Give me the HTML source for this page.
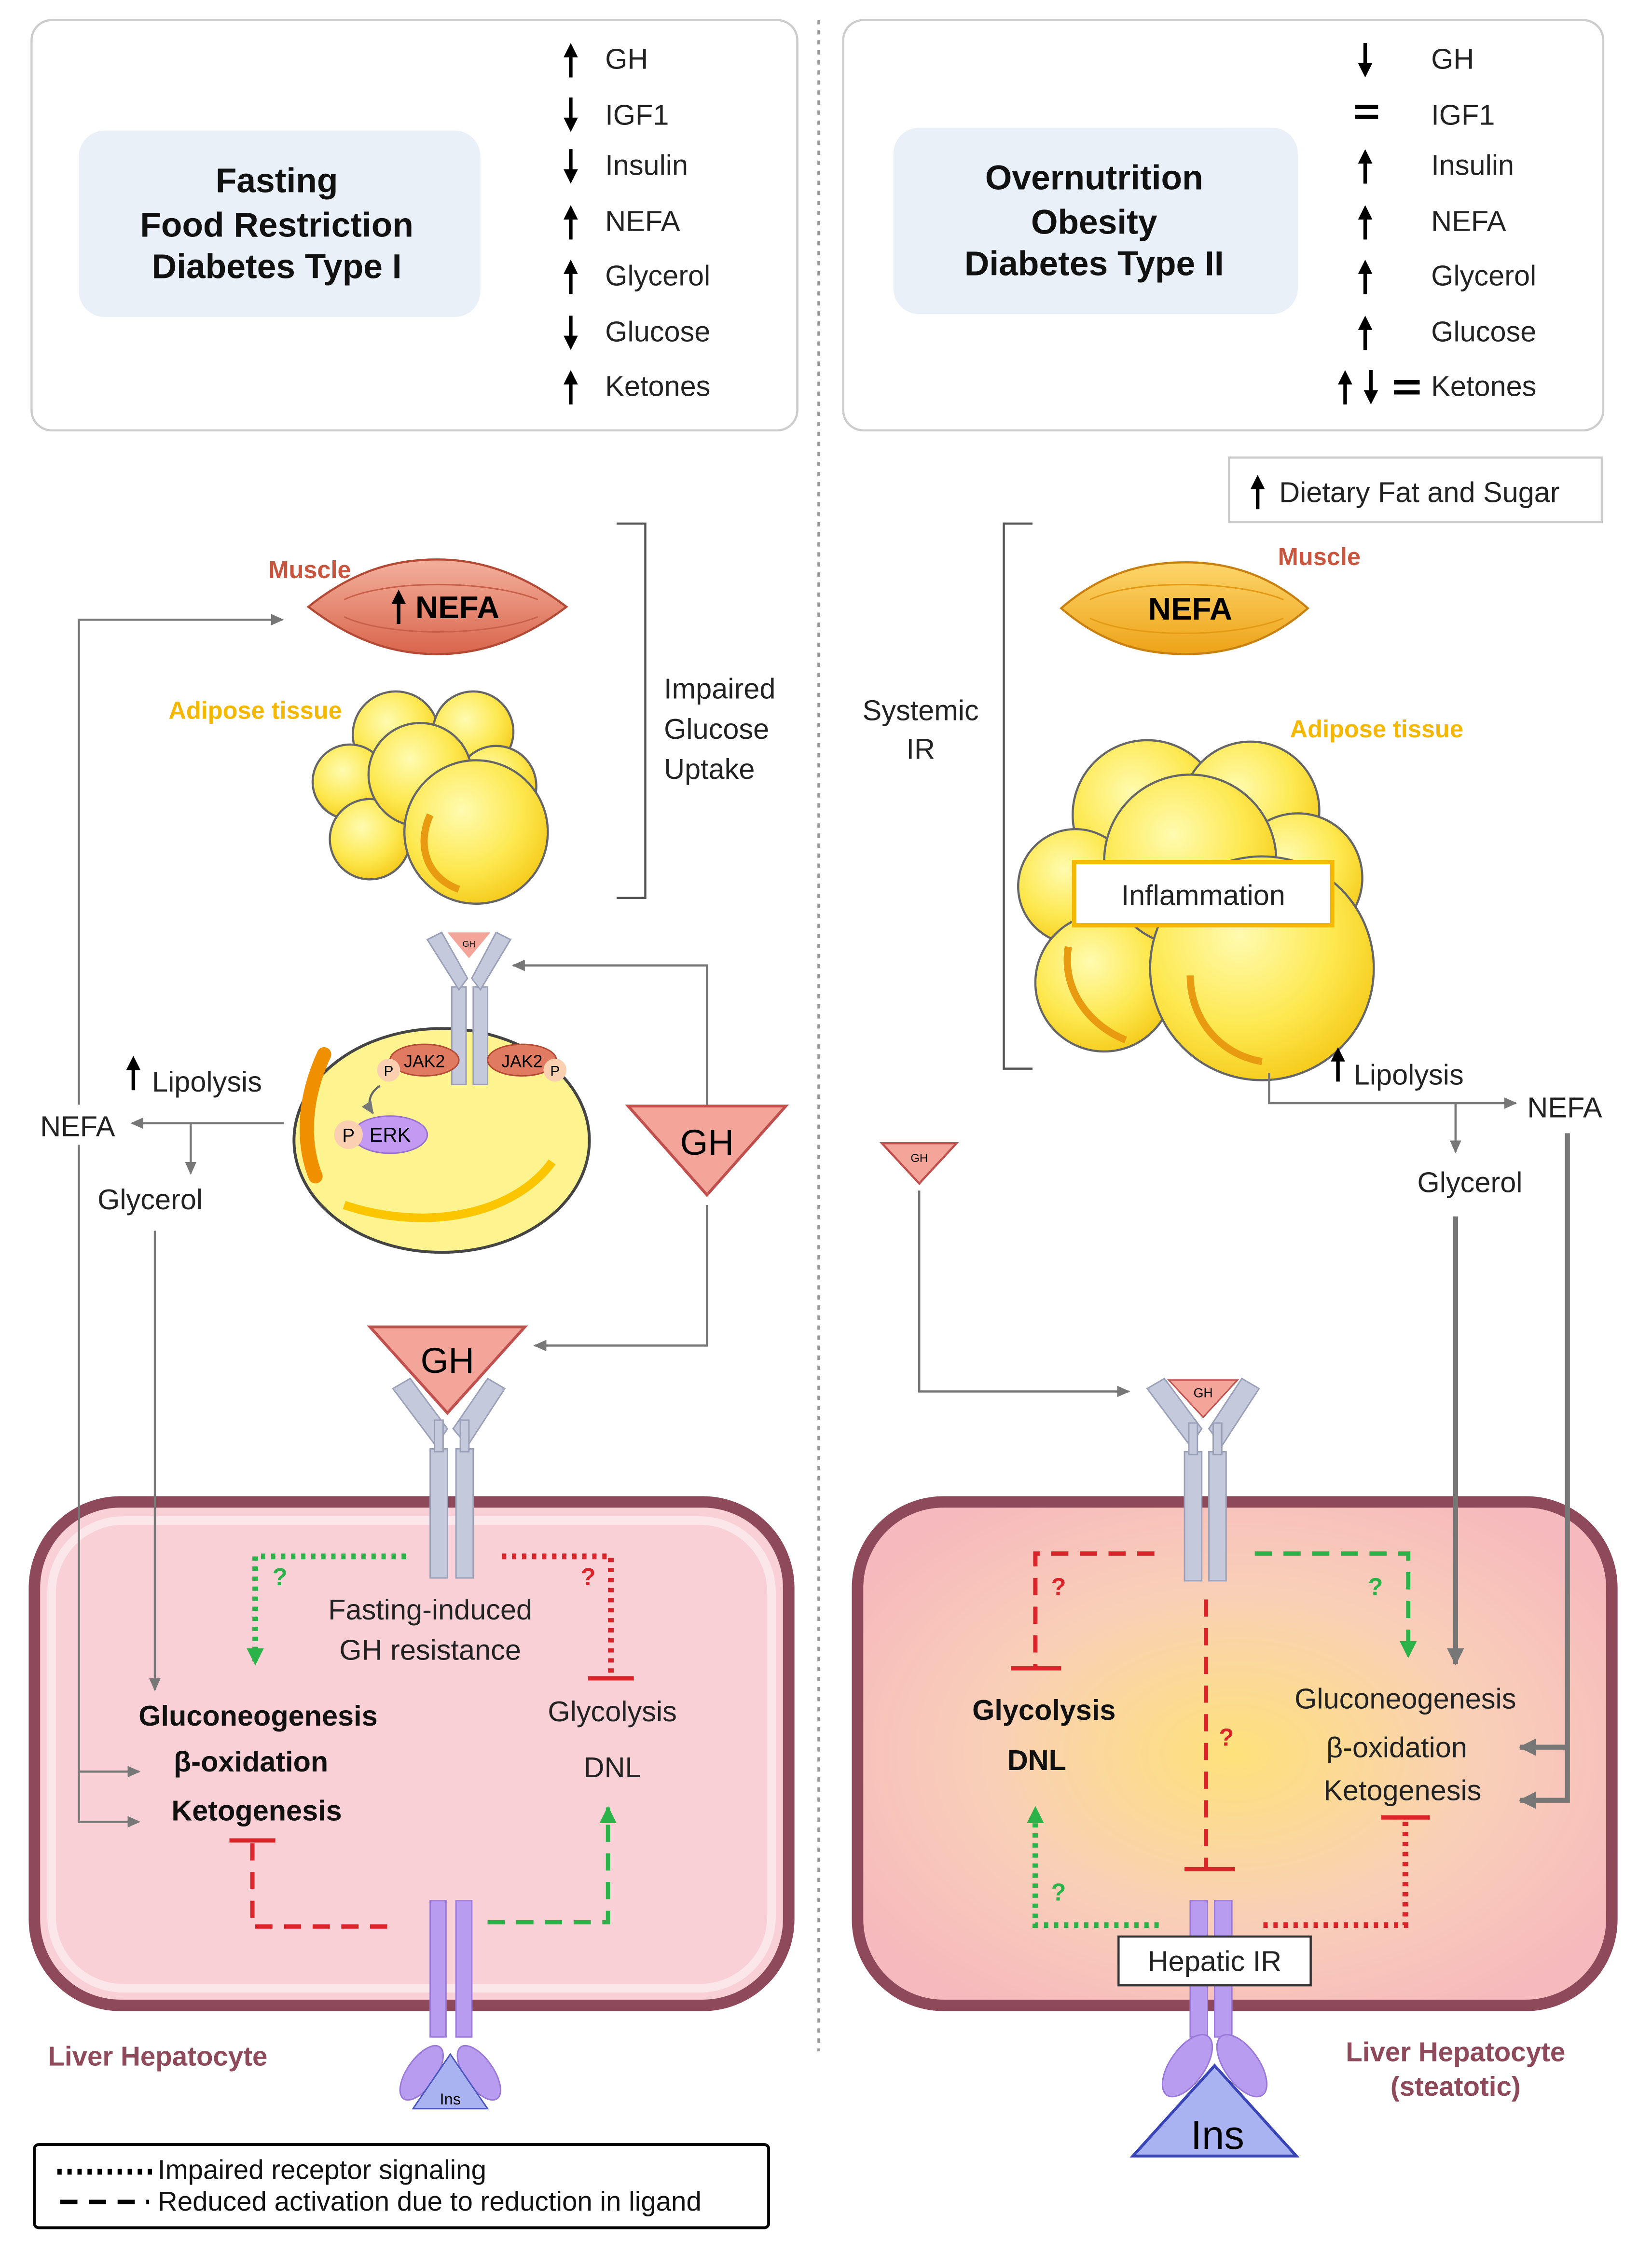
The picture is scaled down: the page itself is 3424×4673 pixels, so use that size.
<!DOCTYPE html>
<html><head><meta charset="utf-8"><style>html,body{margin:0;padding:0;background:#fff}svg{display:block}text{font-family:"Liberation Sans",sans-serif}</style></head>
<body>
<svg width="3424" height="4673" viewBox="0 0 1152 1572" preserveAspectRatio="none" xmlns="http://www.w3.org/2000/svg">
<defs>
<marker id="ag" markerWidth="10" markerHeight="10" refX="8" refY="5" orient="auto" markerUnits="userSpaceOnUse"><path d="M0,1 L9,5 L0,9 z" fill="#777"/></marker>
<marker id="agg" markerWidth="14" markerHeight="14" refX="11" refY="7" orient="auto" markerUnits="userSpaceOnUse"><path d="M0,1 L12,7 L0,13 z" fill="#777"/></marker>
<marker id="gr" markerWidth="14" markerHeight="14" refX="11" refY="7" orient="auto" markerUnits="userSpaceOnUse"><path d="M0,1 L12,7 L0,13 z" fill="#2bb34a"/></marker>
<g id="up"><path d="M0,12 L0,-4" stroke="#000" stroke-width="2.5"/><path d="M-5,-2 L5,-2 L0,-12 z" fill="#000"/></g>
<radialGradient id="liv" cx="0.5" cy="0.5" r="0.6"><stop offset="0" stop-color="#fde27a"/><stop offset="0.55" stop-color="#f9cfb8"/><stop offset="1" stop-color="#f6b9bd"/></radialGradient>
<linearGradient id="mus1" x1="0" y1="0" x2="0" y2="1"><stop offset="0" stop-color="#f3b09c"/><stop offset="1" stop-color="#d9654c"/></linearGradient>
<linearGradient id="mus2" x1="0" y1="0" x2="0" y2="1"><stop offset="0" stop-color="#fcd56a"/><stop offset="1" stop-color="#eea318"/></linearGradient>
<radialGradient id="fat" cx="0.4" cy="0.35" r="0.7"><stop offset="0" stop-color="#fffbb0"/><stop offset="0.6" stop-color="#fde84f"/><stop offset="1" stop-color="#f5c918"/></radialGradient>
</defs>

<rect x="22" y="14" width="534" height="286" rx="14" fill="#fff" stroke="#ccc" stroke-width="1.5"/>
<rect x="55" y="91" width="280" height="130" rx="18" fill="#e9f0f7"/>
<g font-weight="bold" font-size="24" text-anchor="middle" fill="#111">
<text x="193" y="134">Fasting</text><text x="193" y="165">Food Restriction</text><text x="193" y="194">Diabetes Type I</text>
</g>
<g font-size="20" fill="#222">
<text x="422" y="48">GH</text><text x="422" y="87">IGF1</text><text x="422" y="122">Insulin</text><text x="422" y="161">NEFA</text><text x="422" y="199">Glycerol</text><text x="422" y="238">Glucose</text><text x="422" y="276">Ketones</text>
</g>
<use href="#up" x="398" y="42"/>
<use href="#up" transform="translate(398,80) rotate(180)"/>
<use href="#up" transform="translate(398,116) rotate(180)"/>
<use href="#up" x="398" y="155"/>
<use href="#up" x="398" y="193"/>
<use href="#up" transform="translate(398,232) rotate(180)"/>
<use href="#up" x="398" y="270"/>

<line x1="571" y1="14" x2="571" y2="1430" stroke="#999" stroke-width="2" stroke-dasharray="3,4"/>

<rect x="588" y="14" width="530" height="286" rx="14" fill="#fff" stroke="#ccc" stroke-width="1.5"/>
<rect x="623" y="89" width="282" height="130" rx="18" fill="#e9f0f7"/>
<g font-weight="bold" font-size="24" text-anchor="middle" fill="#111">
<text x="763" y="132">Overnutrition</text><text x="763" y="163">Obesity</text><text x="763" y="192">Diabetes Type II</text>
</g>
<g font-size="20" fill="#222">
<text x="998" y="48">GH</text><text x="998" y="87">IGF1</text><text x="998" y="122">Insulin</text><text x="998" y="161">NEFA</text><text x="998" y="199">Glycerol</text><text x="998" y="238">Glucose</text><text x="998" y="276">Ketones</text>
</g>
<use href="#up" transform="translate(952,42) rotate(180)"/>
<rect x="945" y="73" width="16" height="3" fill="#000"/><rect x="945" y="80" width="16" height="3" fill="#000"/>
<use href="#up" x="952" y="116"/>
<use href="#up" x="952" y="155"/>
<use href="#up" x="952" y="193"/>
<use href="#up" x="952" y="232"/>
<use href="#up" x="938" y="270"/>
<use href="#up" transform="translate(956,270) rotate(180)"/>
<rect x="972" y="265" width="18" height="3" fill="#000"/><rect x="972" y="272" width="18" height="3" fill="#000"/>

<rect x="857" y="319" width="260" height="45" fill="#fff" stroke="#ccc" stroke-width="1.5"/>
<use href="#up" x="877" y="343"/>
<text x="892" y="350" font-size="20" fill="#222">Dietary Fat and Sugar</text>

<text x="216" y="403" font-size="17" font-weight="bold" fill="#c8553d" text-anchor="middle">Muscle</text>
<path d="M215,423 C250,395 280,390 305,390 C335,390 365,400 395,423 C365,446 335,456 305,456 C280,456 250,450 215,423 z" fill="url(#mus1)" stroke="#b34a35" stroke-width="1.5"/>
<path d="M240,418 C270,404 340,404 375,418 M240,430 C270,444 340,444 375,430" stroke="#c9604a" fill="none"/>
<use href="#up" x="278" y="423"/>
<text x="319" y="431" font-size="22" font-weight="bold" text-anchor="middle">NEFA</text>

<text x="178" y="501" font-size="17" font-weight="bold" fill="#f5b800" text-anchor="middle">Adipose tissue</text>
<g fill="url(#fat)" stroke="#666" stroke-width="1.5">
<circle cx="276" cy="512" r="30"/><circle cx="330" cy="510" r="28"/><circle cx="244" cy="545" r="26"/><circle cx="346" cy="548" r="28"/>
<circle cx="258" cy="585" r="28"/><circle cx="293" cy="540" r="36"/><circle cx="332" cy="580" r="50"/>
</g>
<path d="M300,568 C290,590 298,612 320,620" stroke="#e89a10" stroke-width="5" fill="none"/>

<path d="M430,365 L450,365 L450,626 L430,626" fill="none" stroke="#555" stroke-width="1.5"/>
<g font-size="20" fill="#222"><text x="463" y="487">Impaired</text><text x="463" y="515">Glucose</text><text x="463" y="543">Uptake</text></g>

<ellipse cx="308" cy="795" rx="103" ry="78" fill="#fef48f" stroke="#444" stroke-width="2"/>
<path d="M226,735 C210,770 212,800 220,820" stroke="#f09000" stroke-width="10" fill="none" stroke-linecap="round"/>
<path d="M240,840 C300,860 360,845 385,810" stroke="#fbc600" stroke-width="6" fill="none"/>
<g fill="#c4c9dc" stroke="#9aa0b8">
<rect x="315" y="688" width="10" height="68"/><rect x="330" y="688" width="10" height="68"/>
<path d="M298,655 L308,650 L326,682 L320,690 z"/><path d="M356,655 L346,650 L329,682 L335,690 z"/>
</g>
<path d="M312,650 L342,650 L327,668 z" fill="#f4a59a"/>
<text x="327" y="660" font-size="6" text-anchor="middle">GH</text>
<ellipse cx="296" cy="739" rx="24" ry="11" fill="#e07a60" stroke="#b34a35"/><text x="296" y="744" font-size="12" text-anchor="middle">JAK2</text>
<ellipse cx="364" cy="739" rx="24" ry="11" fill="#e07a60" stroke="#b34a35"/><text x="364" y="744" font-size="12" text-anchor="middle">JAK2</text>
<circle cx="271" cy="746" r="8" fill="#fad0b0"/><text x="271" y="750" font-size="10" text-anchor="middle">P</text>
<circle cx="387" cy="746" r="8" fill="#fad0b0"/><text x="387" y="750" font-size="10" text-anchor="middle">P</text>
<ellipse cx="272" cy="791" rx="26" ry="13" fill="#c29af2" stroke="#9a70d0"/><text x="272" y="796" font-size="14" text-anchor="middle">ERK</text>
<circle cx="243" cy="791" r="10" fill="#fad0b0"/><text x="243" y="796" font-size="13" text-anchor="middle">P</text>
<path d="M265,757 C257,762 256,770 260,776" stroke="#666" stroke-width="1.5" fill="none" marker-end="url(#ag)"/>

<path d="M493,770 L493,673 L358,673" fill="none" stroke="#777" stroke-width="1.5" marker-end="url(#ag)"/>
<path d="M438,771 L548,771 L493,833 z" fill="#f4a59a" stroke="#c0504d" stroke-width="2"/>
<text x="493" y="805" font-size="25" text-anchor="middle">GH</text>
<path d="M493,840 L493,938 L373,938" fill="none" stroke="#777" stroke-width="1.5" marker-end="url(#ag)"/>

<use href="#up" x="93" y="748"/>
<text x="106" y="761" font-size="20" fill="#222">Lipolysis</text>
<text x="28" y="792" font-size="20" fill="#222">NEFA</text>
<path d="M198,783 L92,783" stroke="#777" stroke-width="1.5" marker-end="url(#ag)"/>
<path d="M133,783 L133,818" stroke="#777" stroke-width="1.5" marker-end="url(#ag)"/>
<text x="68" y="843" font-size="20" fill="#222">Glycerol</text>
<path d="M55,770 L55,432 L197,432" fill="none" stroke="#777" stroke-width="1.5" marker-end="url(#ag)"/>

<!-- liver left -->
<rect x="24" y="1047" width="526" height="351" rx="60" fill="#f8d0d6" stroke="#8e4a5a" stroke-width="8"/>
<rect x="36" y="1060" width="502" height="326" rx="50" fill="none" stroke="#fbe6ea" stroke-width="6"/>

<path d="M108,858 L108,1178" stroke="#777" stroke-width="1.5" marker-end="url(#ag)"/>
<path d="M55,798 L55,1270 L97,1270" fill="none" stroke="#777" stroke-width="1.5" marker-end="url(#ag)"/>
<path d="M55,1235 L97,1235" stroke="#777" stroke-width="1.5" marker-end="url(#ag)"/>

<path d="M258,925 L366,925 L312,985 z" fill="#f4a59a" stroke="#c0504d" stroke-width="2"/>
<text x="312" y="957" font-size="25" text-anchor="middle">GH</text>
<g fill="#c4c9dc" stroke="#9aa0b8">
<rect x="300" y="1010" width="12" height="90"/><rect x="318" y="1010" width="12" height="90"/>
<path d="M274,968 L286,961 L312,996 L304,1008 z"/><path d="M352,968 L340,961 L316,996 L326,1008 z"/>
<rect x="303" y="990" width="6" height="22"/><rect x="321" y="990" width="6" height="22"/>
</g>

<path d="M283,1085 L178,1085 L178,1160" fill="none" stroke="#2bb34a" stroke-width="4" stroke-dasharray="3,4" marker-end="url(#gr)"/>
<text x="190" y="1105" font-size="17" font-weight="bold" fill="#2bb34a">?</text>
<path d="M350,1085 L426,1085 L426,1170" fill="none" stroke="#d9242a" stroke-width="4" stroke-dasharray="3,4"/>
<line x1="410" y1="1170" x2="442" y2="1170" stroke="#d9242a" stroke-width="3"/>
<text x="405" y="1105" font-size="17" font-weight="bold" fill="#d9242a">?</text>
<g font-size="20" fill="#222" text-anchor="middle"><text x="300" y="1129">Fasting-induced</text><text x="300" y="1157">GH resistance</text>
<text x="427" y="1200">Glycolysis</text><text x="427" y="1239">DNL</text></g>
<g font-size="20" font-weight="bold" fill="#111" text-anchor="middle"><text x="180" y="1203">Gluconeogenesis</text><text x="175" y="1235">β-oxidation</text><text x="179" y="1269">Ketogenesis</text></g>
<line x1="160" y1="1283" x2="192" y2="1283" stroke="#d9242a" stroke-width="3"/>
<path d="M176,1285 L176,1343 L272,1343" fill="none" stroke="#d9242a" stroke-width="3" stroke-dasharray="12,8"/>
<path d="M340,1340 L424,1340 L424,1260" fill="none" stroke="#2bb34a" stroke-width="3" stroke-dasharray="12,8" marker-end="url(#gr)"/>

<g fill="#b79cf0" stroke="#9a78d8">
<rect x="300" y="1325" width="11" height="95"/><rect x="318" y="1325" width="11" height="95"/>
<ellipse cx="294" cy="1445" rx="10" ry="22" transform="rotate(35 294 1445)"/><ellipse cx="334" cy="1445" rx="10" ry="22" transform="rotate(-35 334 1445)"/>
</g>
<path d="M314,1432 L340,1470 L288,1470 z" fill="#aab3f2" stroke="#4a55c0"/>
<text x="314" y="1467" font-size="11" text-anchor="middle">Ins</text>
<text x="110" y="1440" font-size="19" font-weight="bold" fill="#8e4a5a" text-anchor="middle">Liver Hepatocyte</text>

<rect x="24" y="1495" width="512" height="58" rx="3" fill="#fff" stroke="#000" stroke-width="2"/>
<line x1="40" y1="1514" x2="106" y2="1514" stroke="#000" stroke-width="4" stroke-dasharray="3,4"/>
<line x1="42" y1="1535" x2="104" y2="1535" stroke="#000" stroke-width="3" stroke-dasharray="12,8"/>
<g font-size="19" fill="#111"><text x="110" y="1519">Impaired receptor signaling</text><text x="110" y="1541">Reduced activation due to reduction in ligand</text></g>

<!-- RIGHT -->
<text x="920" y="394" font-size="17" font-weight="bold" fill="#c8553d" text-anchor="middle">Muscle</text>
<path d="M740,424 C770,398 800,392 827,392 C855,392 885,400 912,424 C885,448 855,456 827,456 C800,456 770,450 740,424 z" fill="url(#mus2)" stroke="#c88010" stroke-width="1.5"/>
<path d="M760,418 C790,404 860,404 895,418 M760,431 C790,445 860,445 895,431" stroke="#e49a15" fill="none"/>
<text x="830" y="432" font-size="22" font-weight="bold" text-anchor="middle">NEFA</text>

<path d="M720,365 L700,365 L700,745 L720,745" fill="none" stroke="#555" stroke-width="1.5"/>
<g font-size="20" fill="#222" text-anchor="middle"><text x="642" y="502">Systemic</text><text x="642" y="529">IR</text></g>
<text x="960" y="514" font-size="17" font-weight="bold" fill="#f5b800" text-anchor="middle">Adipose tissue</text>
<g fill="url(#fat)" stroke="#666" stroke-width="1.5">
<circle cx="800" cy="568" r="52"/><circle cx="872" cy="565" r="48"/><circle cx="905" cy="612" r="45"/><circle cx="750" cy="618" r="40"/>
<circle cx="770" cy="685" r="48"/><circle cx="830" cy="600" r="60"/><circle cx="880" cy="675" r="78"/>
</g>
<path d="M745,660 C740,690 760,715 785,725 M830,680 C830,710 850,735 880,740" stroke="#e89a10" stroke-width="5" fill="none"/>
<rect x="749" y="601" width="180" height="44" fill="#fff" stroke="#f5b800" stroke-width="3"/>
<text x="839" y="631" font-size="20" text-anchor="middle" fill="#222">Inflammation</text>

<use href="#up" x="933" y="742"/>
<text x="944" y="756" font-size="20" fill="#222">Lipolysis</text>
<path d="M885,748 L885,769 L1057,769" fill="none" stroke="#777" stroke-width="1.5" marker-end="url(#ag)"/>
<text x="1065" y="779" font-size="20" fill="#222">NEFA</text>
<path d="M1015,769 L1015,803" stroke="#777" stroke-width="1.5" marker-end="url(#ag)"/>
<text x="1025" y="831" font-size="20" fill="#222" text-anchor="middle">Glycerol</text>

<path d="M615,797 L667,797 L641,825 z" fill="#f4a59a" stroke="#c0504d" stroke-width="1.5"/>
<text x="641" y="810" font-size="8" text-anchor="middle">GH</text>
<path d="M641,830 L641,970 L787,970" fill="none" stroke="#777" stroke-width="1.5" marker-end="url(#ag)"/>

<rect x="598" y="1047" width="526" height="351" rx="60" fill="url(#liv)" stroke="#8e4a5a" stroke-width="8"/>
<path d="M1015,848 L1015,1160" stroke="#777" stroke-width="3.5" marker-end="url(#agg)"/>
<path d="M1093,790 L1093,1255 L1060,1255" fill="none" stroke="#777" stroke-width="3.5" marker-end="url(#agg)"/>
<path d="M1093,1218 L1060,1218" stroke="#777" stroke-width="3.5" marker-end="url(#agg)"/>

<g fill="#c4c9dc" stroke="#9aa0b8">
<rect x="826" y="1012" width="12" height="90"/><rect x="843" y="1012" width="12" height="90"/>
<path d="M800,968 L812,961 L838,996 L830,1008 z"/><path d="M878,968 L866,961 L843,996 L852,1008 z"/>
<rect x="829" y="992" width="6" height="22"/><rect x="846" y="992" width="6" height="22"/>
</g>
<path d="M815,962 L863,962 L839,988 z" fill="#f4a59a" stroke="#c0504d"/>
<text x="839" y="974" font-size="9" text-anchor="middle">GH</text>

<path d="M805,1083 L722,1083 L722,1163" fill="none" stroke="#d9242a" stroke-width="3" stroke-dasharray="12,8"/>
<line x1="705" y1="1163" x2="740" y2="1163" stroke="#d9242a" stroke-width="3"/>
<text x="733" y="1112" font-size="17" font-weight="bold" fill="#d9242a">?</text>
<path d="M875,1083 L982,1083 L982,1155" fill="none" stroke="#2bb34a" stroke-width="3" stroke-dasharray="12,8" marker-end="url(#gr)"/>
<text x="954" y="1112" font-size="17" font-weight="bold" fill="#2bb34a">?</text>
<path d="M841,1115 L841,1302" stroke="#d9242a" stroke-width="3" stroke-dasharray="12,8"/>
<line x1="826" y1="1303" x2="861" y2="1303" stroke="#d9242a" stroke-width="3"/>
<text x="850" y="1217" font-size="17" font-weight="bold" fill="#d9242a">?</text>
<g font-size="20" font-weight="bold" fill="#111" text-anchor="middle"><text x="728" y="1199">Glycolysis</text><text x="723" y="1234">DNL</text></g>
<g font-size="20" fill="#222" text-anchor="middle"><text x="980" y="1191">Gluconeogenesis</text><text x="974" y="1225">β-oxidation</text><text x="978" y="1255">Ketogenesis</text></g>
<line x1="963" y1="1267" x2="997" y2="1267" stroke="#d9242a" stroke-width="3"/>
<path d="M980,1270 L980,1342 L880,1342" fill="none" stroke="#d9242a" stroke-width="4" stroke-dasharray="3,4"/>
<path d="M808,1342 L722,1342 L722,1260" fill="none" stroke="#2bb34a" stroke-width="4" stroke-dasharray="3,4" marker-end="url(#gr)"/>
<text x="733" y="1325" font-size="17" font-weight="bold" fill="#2bb34a">?</text>

<g fill="#b79cf0" stroke="#9a78d8">
<rect x="830" y="1325" width="12" height="95"/><rect x="847" y="1325" width="12" height="95"/>
<ellipse cx="828" cy="1440" rx="12" ry="25" transform="rotate(35 828 1440)"/><ellipse cx="866" cy="1440" rx="12" ry="25" transform="rotate(-35 866 1440)"/>
</g>
<rect x="780" y="1350" width="134" height="34" fill="#fff" stroke="#333" stroke-width="1.5"/>
<text x="847" y="1374" font-size="20" text-anchor="middle" fill="#222">Hepatic IR</text>
<path d="M847,1440 L904,1503 L790,1503 z" fill="#aab3f2" stroke="#3a45b8" stroke-width="2"/>
<text x="849" y="1498" font-size="28" text-anchor="middle">Ins</text>
<g font-size="19" font-weight="bold" fill="#8e4a5a" text-anchor="middle"><text x="1015" y="1437">Liver Hepatocyte</text><text x="1015" y="1461">(steatotic)</text></g>
</svg>
</body></html>
